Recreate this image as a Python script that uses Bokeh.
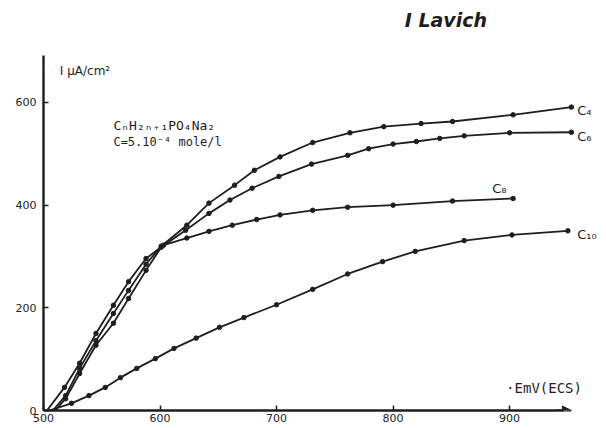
from bokeh.plotting import figure
from bokeh.models import Label, Arrow, NormalHead, FixedTicker
from bokeh.embed import file_html
from bokeh.resources import INLINE

# ---- data ----
x_ticks = [500, 600, 700, 800, 900]
y_ticks = [0, 200, 400, 600]

c4_x = [508, 519, 531, 545, 560, 573, 588, 601, 623, 642, 664, 681, 703, 731, 763, 792, 824, 851, 903, 953]
c4_y = [0, 29, 82, 136, 189, 234, 285, 320, 361, 404, 439, 468, 494, 522, 541, 553, 559, 563, 576, 591]

c6_x = [510, 519, 531, 545, 560, 573, 588, 601, 622, 642, 660, 679, 702, 730, 761, 779, 800, 820, 840, 861, 900, 953]
c6_y = [0, 23, 72, 127, 170, 218, 273, 318, 351, 384, 410, 433, 456, 480, 497, 510, 519, 524, 530, 535, 541, 542]

c8_x = [503, 518, 531, 545, 560, 573, 588, 603, 623, 642, 662, 683, 703, 731, 761, 800, 851, 903]
c8_y = [0, 45, 92, 150, 205, 251, 296, 322, 336, 349, 361, 372, 381, 390, 396, 400, 408, 413]

c10_x = [505, 524, 539, 553, 566, 580, 596, 612, 631, 651, 672, 700, 731, 761, 791, 819, 861, 902, 950]
c10_y = [0, 14, 29, 45, 64, 82, 101, 121, 141, 162, 181, 206, 236, 266, 290, 310, 331, 342, 350]

series = [("C₄", c4_x, c4_y), ("C₆", c6_x, c6_y), ("C₈", c8_x, c8_y), ("C₁₀", c10_x, c10_y)]

INK = "#1e1e1e"
FONT = "DejaVu Sans"
MONO = "DejaVu Sans Mono"

p = figure(width=600, height=426, x_range=(500, 978), y_range=(0, 798.7),
           output_backend="svg", toolbar_location=None,
           min_border_left=43, min_border_right=0, min_border_top=0, min_border_bottom=16)
p.outline_line_color = None
p.xgrid.visible = False
p.ygrid.visible = False
p.background_fill_color = "white"
p.border_fill_color = "white"

for name, xs, ys in series:
    p.line(xs, ys, line_color=INK, line_width=1.8)
    p.scatter(xs[1:], ys[1:], size=4.5, color=INK)

# axes
p.xaxis.ticker = FixedTicker(ticks=x_ticks)
p.yaxis.ticker = FixedTicker(ticks=y_ticks)
for ax in (p.xaxis[0], p.yaxis[0]):
    ax.axis_line_color = INK
    ax.axis_line_width = 2.4
    ax.major_tick_in = 5
    ax.major_tick_out = 0
    ax.minor_tick_line_color = None
    ax.major_tick_line_color = INK
    ax.major_tick_line_width = 1.5
    ax.major_label_text_font = FONT
    ax.major_label_text_font_size = "11px"
    ax.major_label_text_color = "#222222"
p.yaxis.bounds = (0, 692)
p.xaxis.bounds = (500, 946)
p.yaxis.major_label_standoff = 7
p.xaxis.major_label_standoff = 3

p.add_layout(Arrow(end=NormalHead(size=9, fill_color=INK, line_color=INK),
                   x_start=940, y_start=0, x_end=953, y_end=0,
                   line_color=INK, line_width=2.2))

# texts
def lab(txt, x, y, size, align="left", style="normal", font=FONT):
    p.add_layout(Label(x=x, y=y, text=txt, text_font=font, text_font_size=size,
                       text_color=INK, text_align=align, text_baseline="middle",
                       text_font_style=style))

lab("I μA/cm²", 514, 662, "12px")
lab("CₙH₂ₙ₊₁PO₄Na₂", 560, 555, "13px", font=MONO)
lab("C=5.10⁻⁴ mole/l", 560, 524, "12px", font=MONO)
lab("·EmV(ECS)", 897, 43, "14px", font=MONO)
lab("I  Lavich", 810, 760, "19px", style="bold italic")

lab("C₄", 958, 584, "13px")
lab("C₆", 958, 534, "13px")
lab("C₈", 885, 432, "13px")
lab("C₁₀", 958, 343, "13px")

open("out.html", "w").write(file_html(p, INLINE))
